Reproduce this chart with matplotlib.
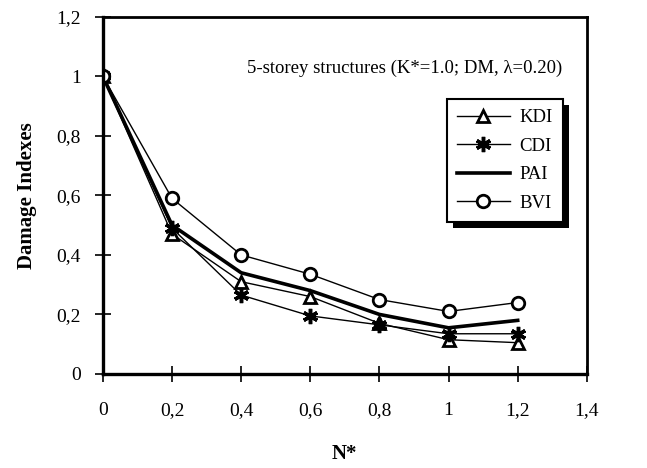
import matplotlib
matplotlib.use('Agg')
import matplotlib.pyplot as plt
from matplotlib.patches import Rectangle
from matplotlib.ticker import FuncFormatter

plt.rcParams['font.family'] = ['Liberation Serif', 'DejaVu Serif']

# N* values and damage indexes for each measure
n_star = [0.0, 0.2, 0.4, 0.6, 0.8, 1.0, 1.2]
kdi = [1.0, 0.47, 0.31, 0.26, 0.17, 0.115, 0.105]
cdi = [1.0, 0.49, 0.265, 0.195, 0.165, 0.135, 0.135]
pai = [1.0, 0.50, 0.34, 0.28, 0.20, 0.155, 0.18]
bvi = [1.0, 0.59, 0.40, 0.335, 0.25, 0.21, 0.24]

x_ticks = [0, 0.2, 0.4, 0.6, 0.8, 1.0, 1.2, 1.4]
y_ticks = [0, 0.2, 0.4, 0.6, 0.8, 1.0, 1.2]


def comma(v, pos):
    s = '%g' % v
    return s.replace('.', ',')


fig = plt.figure(figsize=(6.47, 4.68), dpi=100)
ax = fig.add_axes([0.159, 0.201, 0.748, 0.763])

ax.plot(n_star, kdi, color='black', lw=1.0, marker='^', ms=8,
        mfc='white', mec='black', mew=2, label='KDI')
ax.plot(n_star, cdi, color='black', lw=1.0, marker=(6, 2, 0), ms=11,
        mec='black', mew=2.5, label='CDI')
ax.plot(n_star, pai, color='black', lw=2.6, label='PAI')
ax.plot(n_star, bvi, color='black', lw=1.0, marker='o', ms=9,
        mfc='white', mec='black', mew=2, label='BVI')

ax.set_xlim(0, 1.4)
ax.set_ylim(0, 1.2)
ax.set_xticks(x_ticks)
ax.set_yticks(y_ticks)
ax.xaxis.set_major_formatter(FuncFormatter(comma))
ax.yaxis.set_major_formatter(FuncFormatter(comma))
ax.tick_params(direction='inout', length=12, width=1.2, labelsize=14,
               pad=10, colors='black')
ax.tick_params(axis='x', pad=14)
for side in ['left', 'bottom']:
    ax.spines[side].set_linewidth(2.4)
for side in ['top', 'right']:
    ax.spines[side].set_linewidth(2.0)

ax.set_xlabel('N*', fontsize=15, fontweight='bold', labelpad=18)
ax.set_ylabel('Damage Indexes', fontsize=15, fontweight='bold', labelpad=14)

ax.text(0.95, 0.857, '5-storey structures (K*=1.0; DM, \u03bb=0.20)',
        transform=ax.transAxes, ha='right', va='center', fontsize=13.5)

leg = ax.legend(loc='upper right', bbox_to_anchor=(0.95, 0.77),
                borderaxespad=0, fontsize=13.5, frameon=True, fancybox=False,
                handlelength=2.8, labelspacing=0.6, handletextpad=0.5,
                borderpad=0.55, framealpha=1)
leg.get_frame().set_edgecolor('black')
leg.get_frame().set_linewidth(1.5)

# solid drop shadow behind the legend box
fig.canvas.draw()
bb = leg.get_window_extent()
ax.add_patch(Rectangle((bb.x0 + 6, bb.y0 - 6), bb.width, bb.height,
                       transform=None, facecolor='black', edgecolor='none',
                       zorder=4.5, clip_on=False))

fig.savefig('out.png', dpi=100)
